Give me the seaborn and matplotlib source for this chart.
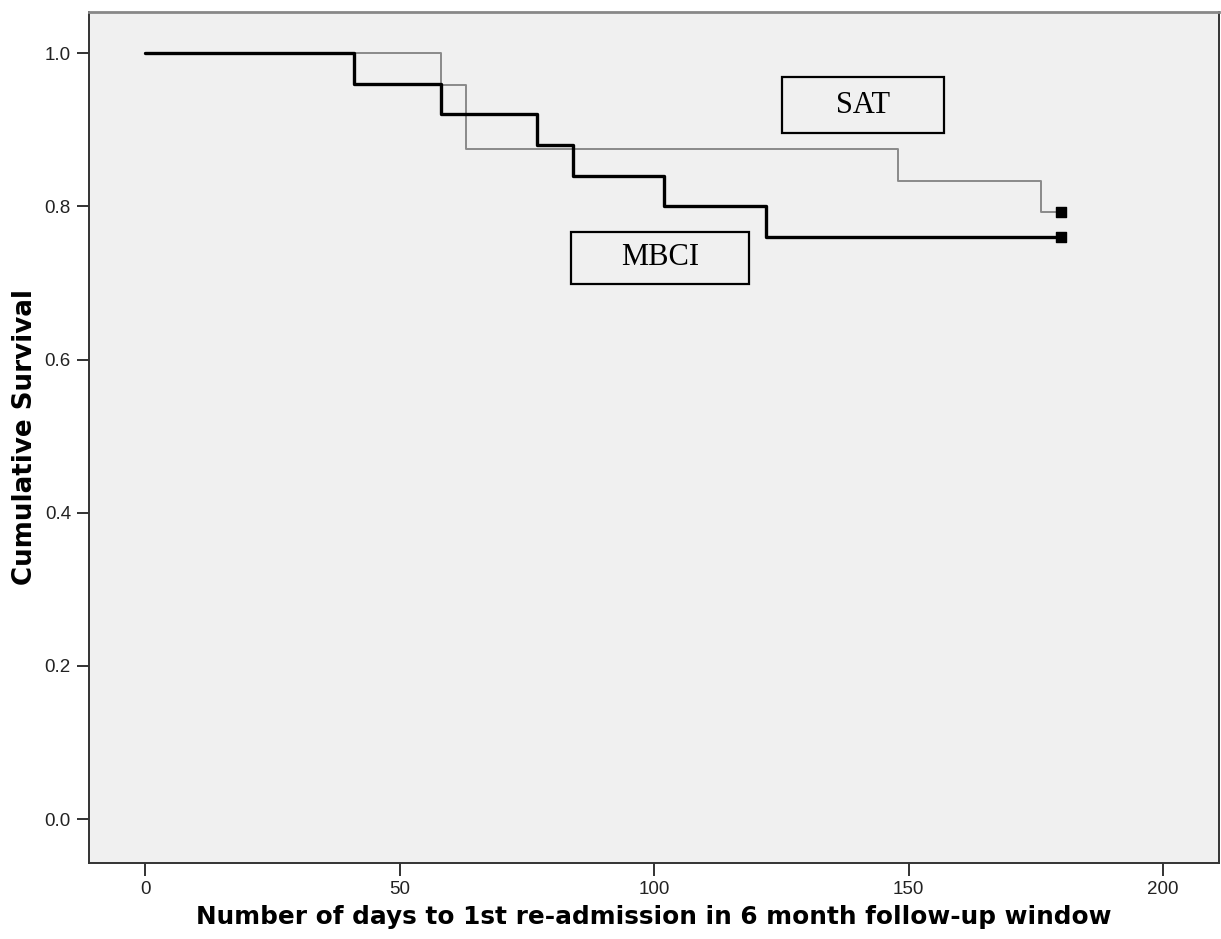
import matplotlib
matplotlib.use("Agg")
import matplotlib.pyplot as plt
from matplotlib.patches import Rectangle
import seaborn as sns
import pandas as pd

# Data (Kaplan-Meier step points)
mbci_times = [0, 41, 58, 77, 84, 102, 122, 180]
mbci_surv = [1.0, 0.96, 0.92, 0.88, 0.84, 0.80, 0.76, 0.76]
sat_times = [0, 58, 63, 148, 176, 180]
sat_surv = [1.0, 0.958, 0.875, 0.833, 0.792, 0.792]
censor_times = [180, 180]
censor_surv = [0.76, 0.792]

x_ticks = [0, 50, 100, 150, 200]
y_ticks = [0.0, 0.2, 0.4, 0.6, 0.8, 1.0]

sns.set_style("white")
plt.rcParams['font.family'] = ['Liberation Sans', 'DejaVu Sans']

fig = plt.figure(figsize=(12.21, 9.39), dpi=100)
ax = fig.add_axes([0.0729, 0.0813, 0.9254, 0.9062])
ax.set_facecolor('#F0F0F0')

df_m = pd.DataFrame({'t': mbci_times, 's': mbci_surv})
df_s = pd.DataFrame({'t': sat_times, 's': sat_surv})

sns.lineplot(data=df_s, x='t', y='s', drawstyle='steps-post', estimator=None,
             color='#8a8a8a', linewidth=1.4, ax=ax)
sns.lineplot(data=df_m, x='t', y='s', drawstyle='steps-post', estimator=None,
             color='black', linewidth=2.4, ax=ax)
ax.scatter(censor_times, censor_surv, marker='s', s=45, color='black', zorder=5)

ax.set_xlim(-11.1, 211)
ax.set_ylim(-0.0567, 1.054)
ax.set_xticks(x_ticks)
ax.set_xticklabels([str(v) for v in x_ticks])
ax.set_yticks(y_ticks)
ax.set_yticklabels([f"{v:.1f}" for v in y_ticks])
ax.tick_params(axis='both', direction='out', length=9, width=1.3, color='#222222',
               labelsize=13.5, labelcolor='#222222', pad=4,
               bottom=True, left=True)

for side in ['left', 'bottom', 'right', 'top']:
    ax.spines[side].set_visible(True)
    ax.spines[side].set_color('#333333')
    ax.spines[side].set_linewidth(1.4)
ax.spines['top'].set_color('#888888')
ax.spines['top'].set_linewidth(2.0)

label_font = ['DejaVu Sans', 'Liberation Sans']
ax.set_xlabel('Number of days to 1st re-admission in 6 month follow-up window',
              fontsize=17.8, fontweight='bold', labelpad=5, family=label_font,
              color='black')
ax.set_ylabel('Cumulative Survival', fontsize=18.8, fontweight='bold', labelpad=5,
              family=label_font, color='black')

# Label boxes
boxes = [
    ('SAT', 125.1, 157.0, 0.8956, 0.9687),
    ('MBCI', 83.7, 118.6, 0.6988, 0.7671),
]
for label, x0, x1, y0, y1 in boxes:
    ax.add_patch(Rectangle((x0, y0), x1 - x0, y1 - y0, fill=False,
                           edgecolor='black', linewidth=1.6, zorder=6))
    ax.text((x0 + x1) / 2, (y0 + y1) / 2, label, ha='center', va='center',
            fontsize=22, family=['Liberation Serif', 'DejaVu Serif'], zorder=7,
            color='black')

fig.savefig('out.png', dpi=100)
